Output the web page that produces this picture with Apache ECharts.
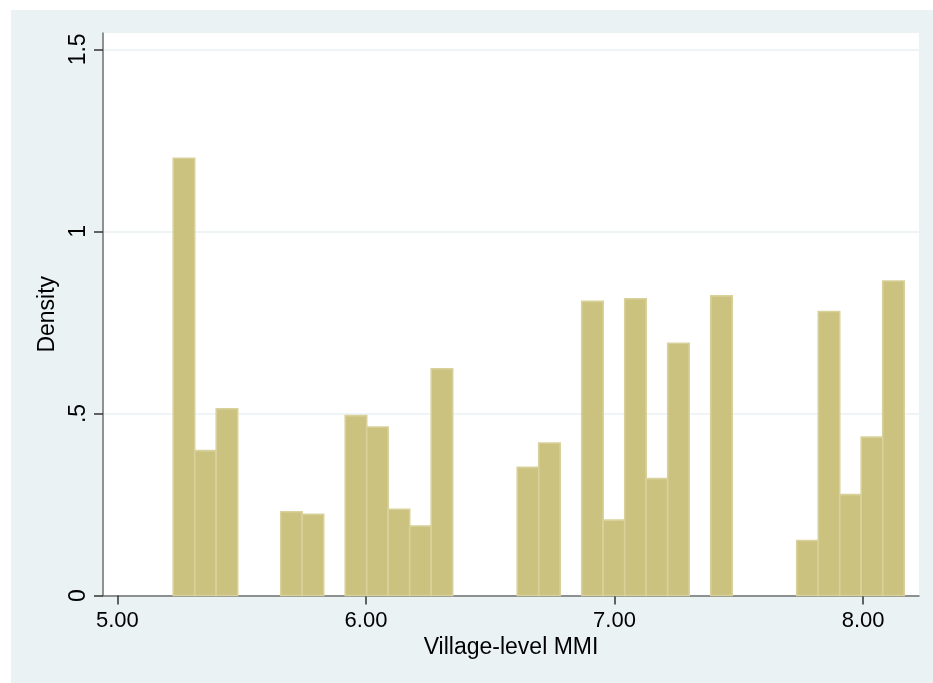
<!DOCTYPE html>
<html>
<head>
<meta charset="utf-8">
<script src="https://cdn.jsdelivr.net/npm/echarts@6/dist/echarts.min.js"></script>
<style>
  html, body { margin: 0; padding: 0; background: #ffffff; }
  #wrap { position: fixed; left: 11px; top: 10px; right: 0; bottom: 0; min-width: 922px; min-height: 673px; background: #EAF2F3; }
  #chart { width: 922px; height: 673px; }
</style>
</head>
<body>
<div id="wrap"><div id="chart"></div></div>
<script>
// Histogram bins: first bin left edge and bin width (Village-level MMI units)
var binStart = 5.2245;
var binWidth = 0.0865;
// Density of each of the 34 bins (0 = empty bin)
var densities = [
  1.201, 0.398, 0.513, 0, 0, 0.230, 0.223, 0, 0.494, 0.463,
  0.237, 0.191, 0.623, 0, 0, 0, 0.352, 0.419, 0, 0.808,
  0.207, 0.815, 0.321, 0.693, 0, 0.823, 0, 0, 0, 0.151,
  0.780, 0.277, 0.435, 0.864
];
var xTicks = [5, 6, 7, 8];
var yTicks = [0, 0.5, 1, 1.5];
var yTickLabels = ['0', '.5', '1', '1.5'];

var binData = [];
for (var i = 0; i < densities.length; i++) {
  if (densities[i] > 0) {
    binData.push([binStart + i * binWidth, binStart + (i + 1) * binWidth, densities[i]]);
  }
}

var chart = echarts.init(document.getElementById('chart'), null, { renderer: 'canvas' });
var font = '"Liberation Sans", Arial, sans-serif';
chart.setOption({
  animation: false,
  backgroundColor: 'transparent',
  grid: {
    left: 92, top: 23, right: 14, bottom: 87.5,
    show: true, backgroundColor: '#ffffff', borderWidth: 0
  },
  xAxis: {
    type: 'value',
    min: 4.942, max: 8.225,
    name: 'Village-level MMI',
    nameLocation: 'middle',
    nameGap: 41,
    nameTextStyle: { fontFamily: font, fontSize: 23, color: '#000' },
    axisLine: { show: true, lineStyle: { color: '#6f6f6f', width: 1.5 } },
    axisTick: { show: true, length: 9, customValues: xTicks, lineStyle: { color: '#333', width: 1.5 } },
    axisLabel: {
      customValues: xTicks,
      margin: 14,
      fontFamily: font, fontSize: 22, color: '#000',
      formatter: function (v) { return v.toFixed(2); }
    },
    splitLine: { show: false }
  },
  yAxis: {
    type: 'value',
    min: 0, max: 1.545, interval: 0.5,
    name: 'Density',
    nameLocation: 'middle',
    nameGap: 39,
    nameRotate: 90,
    nameTextStyle: { fontFamily: font, fontSize: 23, color: '#000' },
    axisLine: { show: true, lineStyle: { color: '#6f6f6f', width: 1.5 } },
    axisTick: { show: true, length: 9, customValues: yTicks, lineStyle: { color: '#333', width: 1.5 } },
    axisLabel: {
      customValues: yTicks,
      rotate: 90,
      margin: 13,
      fontFamily: font, fontSize: 23, color: '#000',
      formatter: function (v) {
        var idx = yTicks.indexOf(v);
        return idx >= 0 ? yTickLabels[idx] : '';
      }
    },
    splitLine: { show: true, lineStyle: { color: '#EAF2F3', width: 1.5 } }
  },
  series: [{
    type: 'custom',
    data: binData,
    encode: { x: [0, 1], y: 2 },
    renderItem: function (params, api) {
      var p0 = api.coord([api.value(0), api.value(2)]);
      var p1 = api.coord([api.value(1), 0]);
      return {
        type: 'rect',
        shape: { x: p0[0], y: p0[1], width: p1[0] - p0[0], height: p1[1] - p0[1] },
        style: { fill: '#CBC27F', stroke: '#D8D19B', lineWidth: 1.6 }
      };
    }
  }]
});
</script>
</body>
</html>
